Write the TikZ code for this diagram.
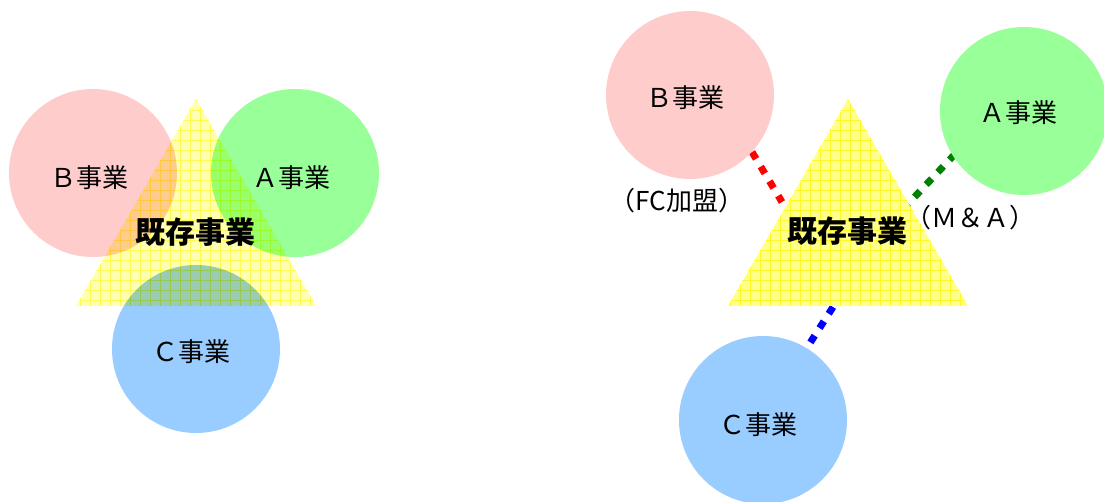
\documentclass[tikz,border=0pt]{standalone}
\usepackage{fontspec}
\newfontfamily\jp{Noto Sans CJK JP}
\usetikzlibrary{calc}
\definecolor{cpink}{RGB}{255,204,204}
\definecolor{cgreen}{RGB}{153,255,153}
\definecolor{cblue}{RGB}{153,204,255}
\definecolor{tfill}{RGB}{255,255,140}
\definecolor{tgrid}{RGB}{255,248,40}
\definecolor{dred}{RGB}{255,0,0}
\definecolor{dgreen}{RGB}{0,128,0}
\definecolor{dblue}{RGB}{0,0,255}
\tikzset{
  circ/.style={circle, minimum size=168pt, inner sep=0pt, draw=none},
  lbl/.style={font=\jp\fontsize{26pt}{26pt}\selectfont, text=black, inner sep=0pt},
  core/.style={font=\jp\bfseries\fontsize{30pt}{30pt}\selectfont, text=black, inner sep=0pt},
  dotline/.style={line width=7pt, dash pattern=on 8pt off 9pt},
}
\newcommand{\tri}[2]{% apex x, apex y
  \begin{scope}
    \clip (#1,#2) -- (#1+120,#2+207) -- (#1-120,#2+207) -- cycle;
    \fill[tfill] (#1-120,#2) rectangle (#1+120,#2+207);
    \draw[tgrid, line width=0.9pt, step=10pt] (#1-125,#2-5) grid (#1+125,#2+210);
  \end{scope}
}
\begin{document}
\begin{tikzpicture}[x=1pt,y=-1pt]
\useasboundingbox (0,0) rectangle (1104,502);
\fill[white] (0,0) rectangle (1104,502);
% ---------- left diagram ----------
\node[circ, fill=cpink]  (LB) at (93,173) {};
\node[circ, fill=cgreen] (LA) at (295,173) {};
\node[circ, fill=cblue]  (LC) at (196,349) {};
\begin{scope}[blend mode=multiply, opacity=0.65]
  \tri{196}{99}
\end{scope}
\node[lbl] (LBt) at (89,178) {Ｂ事業};
\node[lbl] (LAt) at (291,178) {Ａ事業};
\node[lbl] (LCt) at (191,352) {Ｃ事業};
\node[core] (LT) at (195,232) {既存事業};
% ---------- right diagram ----------
\coordinate (rB1) at (752,152);
\coordinate (rB2) at (782,202);
\coordinate (rA1) at (955,154);
\coordinate (rA2) at (907,205);
\coordinate (rC1) at (833,307);
\coordinate (rC2) at (803,354);
\draw[dotline, dred]   (rB1) -- (rB2);
\draw[dotline, dgreen] (rA1) -- (rA2);
\draw[dotline, dblue]  (rC1) -- (rC2);
\node[circ, fill=cpink]  (RB) at (690,95) {};
\node[circ, fill=cgreen] (RA) at (1024,111) {};
\node[circ, fill=cblue]  (RC) at (763,420) {};
\tri{848}{99}
\node[lbl] (RBt) at (685,98) {Ｂ事業};
\node[lbl] (RAt) at (1018,113) {Ａ事業};
\node[lbl] (RCt) at (758,425) {Ｃ事業};
\node[core] (RT) at (847,231) {既存事業};
\node[lbl] (FC) at (677,201) {（FC加盟）};
\node[lbl] (MA) at (970,218) {（Ｍ＆Ａ）};
\end{tikzpicture}
\end{document}
